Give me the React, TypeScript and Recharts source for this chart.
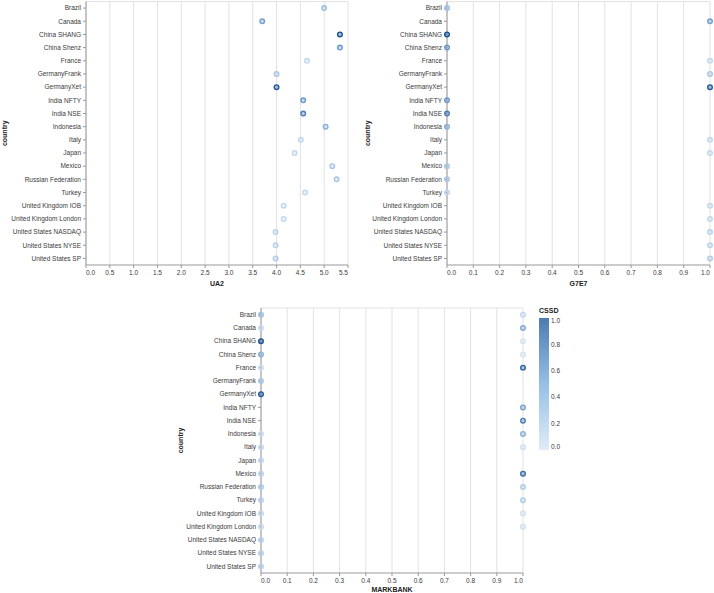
import React from "react";
import {
  ScatterChart,
  Scatter,
  XAxis,
  YAxis,
  CartesianGrid,
  Cell,
} from "recharts";

const countries = [
  "Brazil",
  "Canada",
  "China SHANG",
  "China Shenz",
  "France",
  "GermanyFrank",
  "GermanyXet",
  "India NFTY",
  "India NSE",
  "Indonesia",
  "Italy",
  "Japan",
  "Mexico",
  "Russian Federation",
  "Turkey",
  "United Kingdom IOB",
  "United Kingdom London",
  "United States NASDAQ",
  "United States NYSE",
  "United States SP",
];

const ua2 = [5.0, 3.7, 5.33, 5.33, 4.64, 4.0, 4.0, 4.56, 4.56, 5.03, 4.51, 4.38, 5.17, 5.26, 4.6, 4.15, 4.15, 3.98, 3.98, 3.98];
const g7e7 = [0, 1, 0, 0, 1, 1, 1, 0, 0, 0, 1, 1, 0, 0, 0, 1, 1, 1, 1, 1];
const cssd = [0.35, 0.55, 1.0, 0.6, 0.15, 0.3, 0.95, 0.6, 0.75, 0.45, 0.15, 0.15, 0.3, 0.3, 0.15, 0.15, 0.15, 0.2, 0.2, 0.25];

// MARKBANK: shade of the point at 0 and at 1 (null = no point)
const markbankAt0 = [0.35, 0.1, 1.0, 0.45, 0.1, 0.3, 0.95, null, null, 0.1, 0.15, 0.15, 0.2, 0.25, 0.2, 0.15, 0.12, 0.2, 0.2, 0.2];
const markbankAt1 = [0.15, 0.5, 0.05, 0.05, 0.9, null, null, 0.55, 0.75, 0.45, 0.08, null, 0.85, 0.25, 0.25, 0.08, 0.08, null, null, null];

const ua2Ticks = [0, 0.5, 1, 1.5, 2, 2.5, 3, 3.5, 4, 4.5, 5, 5.5];
const unitTicks = [0, 0.1, 0.2, 0.3, 0.4, 0.5, 0.6, 0.7, 0.8, 0.9, 1];
const legendTicks = [0, 0.2, 0.4, 0.6, 0.8, 1];

const FONT = '"Liberation Sans", Arial, sans-serif';
const AXIS = "#999";
const GRID = "#e2e2e2";
const LABEL = "#3a3a3a";

const ramp: [number, number[]][] = [
  [0, [220, 233, 246]],
  [0.3, [169, 198, 229]],
  [0.6, [108, 154, 203]],
  [1, [26, 79, 146]],
];

function shadeColor(v: number) {
  for (let i = 1; i < ramp.length; i++) {
    const [t1, c1] = ramp[i];
    const [t0, c0] = ramp[i - 1];
    if (v <= t1) {
      const k = (v - t0) / (t1 - t0);
      const c = c0.map((a, j) => Math.round(a + (c1[j] - a) * k));
      return `rgb(${c.join(",")})`;
    }
  }
  return "rgb(26,79,146)";
}

const topLeftData = countries.map((c, i) => ({ country: c, x: ua2[i], shade: cssd[i] }));
const topRightData = countries.map((c, i) => ({ country: c, x: g7e7[i], shade: cssd[i] }));
const bottomData: { country: string; x: number; shade: number }[] = [];
countries.forEach((c, i) => {
  if (markbankAt0[i] != null) bottomData.push({ country: c, x: 0, shade: markbankAt0[i] as number });
  if (markbankAt1[i] != null) bottomData.push({ country: c, x: 1, shade: markbankAt1[i] as number });
});

const Ring = (props: any) => (
  <circle
    cx={props.cx}
    cy={props.cy}
    r={2.3}
    fill={props.fill}
    fillOpacity={0.35}
    stroke={props.fill}
    strokeWidth={1.4}
  />
);

function makeXTick(min: number, max: number) {
  return (props: any) => {
    const v = props.payload.value;
    const anchor = v === min ? "start" : v === max ? "end" : "middle";
    return (
      <text x={props.x} y={props.y} dy="0.71em" textAnchor={anchor} fontSize={6.5} fill={LABEL} fontFamily={FONT}>
        {Number(v).toFixed(1)}
      </text>
    );
  };
}

const CountryTick = (props: any) => (
  <text x={props.x} y={props.y} dy="0.35em" textAnchor="end" fontSize={6.5} fill={LABEL} fontFamily={FONT}>
    {props.payload.value}
  </text>
);

interface PanelProps {
  data: { country: string; x: number; shade: number }[];
  left: number;
  top: number;
  width: number;
  height: number;
  margin: { top: number; right: number; left: number; bottom: number };
  yWidth: number;
  xHeight: number;
  ticks: number[];
  title: string;
  yTitleOffset: number;
  xTitleOffset: number;
}

function Panel({ data, left, top, width, height, margin, yWidth, xHeight, ticks, title, yTitleOffset, xTitleOffset }: PanelProps) {
  const min = ticks[0];
  const max = ticks[ticks.length - 1];
  return (
    <div style={{ position: "absolute", left, top }}>
      <ScatterChart width={width} height={height} margin={margin}>
        <CartesianGrid
          stroke={GRID}
          horizontalCoordinatesGenerator={({ offset }: any) => [offset.top]}
        />
        <XAxis
          type="number"
          dataKey="x"
          domain={[min, max]}
          ticks={ticks}
          interval={0}
          height={xHeight}
          tickSize={3}
          tickMargin={2}
          stroke={AXIS}
          tick={makeXTick(min, max)}
          label={{
            value: title,
            position: "insideBottom",
            offset: xTitleOffset,
            style: { fontSize: 7, fontWeight: "bold", fill: "#222", fontFamily: FONT },
          }}
        />
        <YAxis
          type="category"
          dataKey="country"
          allowDuplicatedCategory={false}
          reversed
          interval={0}
          width={yWidth}
          tickSize={3}
          tickMargin={2}
          stroke={AXIS}
          tick={CountryTick}
          label={{
            value: "country",
            angle: -90,
            position: "insideLeft",
            offset: yTitleOffset,
            style: { fontSize: 7, fontWeight: "bold", fill: "#222", fontFamily: FONT, textAnchor: "middle" },
          }}
        />
        <Scatter data={data} shape={Ring} isAnimationActive={false}>
          {data.map((d, i) => (
            <Cell key={i} fill={shadeColor(d.shade)} />
          ))}
        </Scatter>
      </ScatterChart>
    </div>
  );
}

function Legend() {
  const x = 539;
  const y0 = 318;
  const h = 132;
  return (
    <svg width={714} height={593} style={{ position: "absolute", left: 0, top: 0, pointerEvents: "none" }}>
      <defs>
        <linearGradient id="cssd" x1="0" y1="1" x2="0" y2="0">
          <stop offset="0" stopColor="#e0ecf8" />
          <stop offset="0.5" stopColor="#95bfe4" />
          <stop offset="1" stopColor="#4c7cb1" />
        </linearGradient>
      </defs>
      <text x={x} y={313} fontSize={7} fontWeight="bold" fill="#222" fontFamily={FONT}>
        CSSD
      </text>
      <rect x={x} y={y0} width={10} height={h} fill="url(#cssd)" />
      {legendTicks.map((t, i) => {
        const ty = y0 + h - t * h;
        const dy = i === 0 ? "-0.1em" : i === legendTicks.length - 1 ? "0.75em" : "0.35em";
        return (
          <text key={t} x={x + 12} y={ty} dy={dy} fontSize={6.5} fill={LABEL} fontFamily={FONT}>
            {t.toFixed(1)}
          </text>
        );
      })}
    </svg>
  );
}

export default function App() {
  return (
    <div style={{ position: "absolute", left: 0, top: 0, width: 714, height: 593, background: "#fff", overflow: "hidden" }}>
      <Panel
        data={topLeftData}
        left={0}
        top={0}
        width={355}
        height={295}
        margin={{ top: 1.5, right: 7, left: 0, bottom: 0 }}
        yWidth={86}
        xHeight={30}
        ticks={ua2Ticks}
        title="UA2"
        yTitleOffset={5}
        xTitleOffset={9}
      />
      <Panel
        data={topRightData}
        left={355}
        top={0}
        width={359}
        height={295}
        margin={{ top: 1.5, right: 4, left: 0, bottom: 0 }}
        yWidth={92}
        xHeight={30}
        ticks={unitTicks}
        title="G7E7"
        yTitleOffset={13}
        xTitleOffset={9}
      />
      <Panel
        data={bottomData}
        left={170}
        top={295}
        width={360}
        height={298}
        margin={{ top: 13, right: 7, left: 0, bottom: 0 }}
        yWidth={91}
        xHeight={20}
        ticks={unitTicks}
        title="MARKBANK"
        yTitleOffset={11}
        xTitleOffset={1}
      />
      <Legend />
    </div>
  );
}
